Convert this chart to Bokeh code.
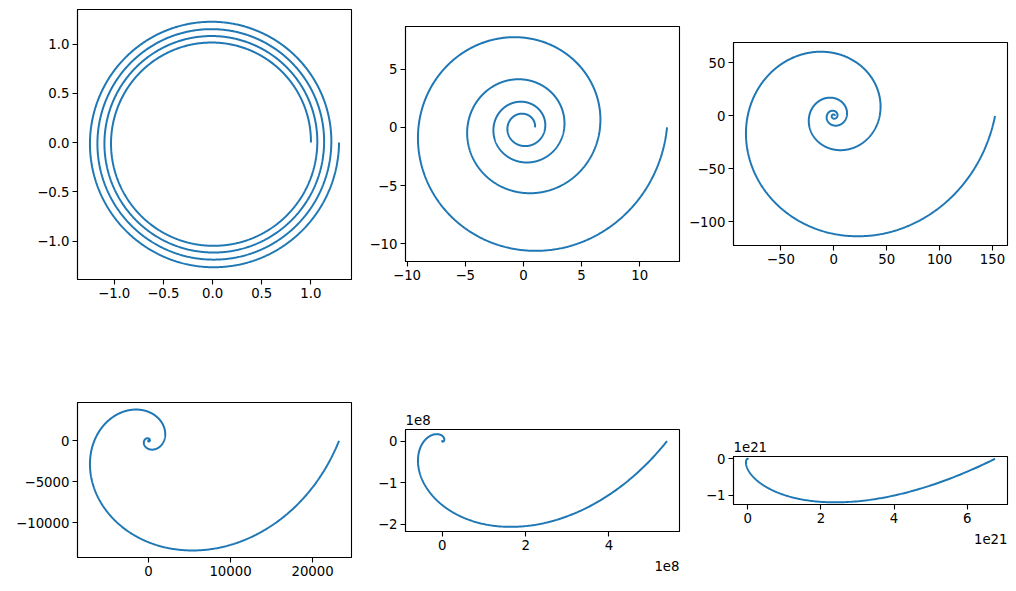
import numpy as np
from bokeh.plotting import figure
from bokeh.models import Range1d, FixedTicker, CustomJSTickFormatter, Title
from bokeh.embed import file_html
from bokeh.resources import INLINE

# ---- data (spiral growth rates) ----
growth_rates = [0.01, 0.1, 0.2, 0.4, 0.8, 2.0]
turns = 4
x_ticks = [[-1.0, -0.5, 0.0, 0.5, 1.0], [-10, -5, 0, 5, 10], [-50, 0, 50, 100, 150],
           [0, 10000, 20000], [0, 2e8, 4e8], [0, 2e21, 4e21, 6e21]]
y_ticks = [[-1.0, -0.5, 0.0, 0.5, 1.0], [-10, -5, 0, 5], [-100, -50, 0, 50],
           [-10000, -5000, 0], [-2e8, -1e8, 0], [-1e21, 0]]
tick_decimals = [1, 0, 0, 0, 0, 0]
offset_exponent = [0, 0, 0, 0, 8, 21]

# ---- layout constants (page pixels) ----
CELL_W, CELL_H = 274, 270
centers_x = [214, 542, 870]
centers_y = [144, 480]
PAGE_W, PAGE_H = 1016, 591
FONT = "DejaVu Sans"
FS = "13.3px"
COLOR = "#1f77b4"


def fmt(dec, exp):
    return CustomJSTickFormatter(args=dict(scale=10.0 ** exp, dec=dec), code="""
        let v = tick / scale;
        let s = v.toFixed(dec);
        if (parseFloat(s) === 0) { s = (0).toFixed(dec); }
        return s.replace('-', '\u2212');
    """)


figs = []
for i, b in enumerate(growth_rates):
    r_i, c_i = divmod(i, 3)
    theta = np.linspace(0, 2 * np.pi * turns, 3000)
    rad = np.exp(b * theta)
    xs = rad * np.cos(theta)
    ys = rad * np.sin(theta)
    x0, x1 = xs.min(), xs.max()
    y0, y1 = ys.min(), ys.max()
    xr0, yr0 = x1 - x0, y1 - y0
    xa, xb = x0 - 0.05 * xr0, x1 + 0.05 * xr0
    ya, yb = y0 - 0.05 * yr0, y1 + 0.05 * yr0
    xr, yr = xb - xa, yb - ya
    s = min(CELL_W / xr, CELL_H / yr)
    fw = int(round(xr * s))
    fh = int(round(yr * s))
    fl = int(round(centers_x[c_i] - fw / 2))
    ft = int(round(centers_y[r_i] - fh / 2))
    bl = 64
    br = min(8, PAGE_W - (fl + fw))
    bt = min(34, ft)
    bb = min(56, PAGE_H - (ft + fh))

    p = figure(frame_width=fw, frame_height=fh, x_range=Range1d(xa, xb), y_range=Range1d(ya, yb),
               output_backend="svg", toolbar_location=None, title=None,
               min_border_left=bl, min_border_right=br, min_border_top=bt, min_border_bottom=bb)
    p.styles = {"position": "absolute", "left": "%dpx" % (fl - bl), "top": "%dpx" % (ft - bt)}
    p.background_fill_color = "white"
    p.border_fill_color = None
    p.outline_line_color = "black"
    p.outline_line_width = 1.1
    p.grid.visible = False
    p.line(xs, ys, line_color=COLOR, line_width=2)

    p.xaxis.ticker = FixedTicker(ticks=x_ticks[i])
    p.yaxis.ticker = FixedTicker(ticks=y_ticks[i])
    p.xaxis.formatter = fmt(tick_decimals[i], offset_exponent[i])
    p.yaxis.formatter = fmt(tick_decimals[i], offset_exponent[i])
    for ax in (p.xaxis, p.yaxis):
        ax.major_tick_in = 0
        ax.major_tick_out = 5
        ax.minor_tick_line_color = None
        ax.major_tick_line_width = 1.1
        ax.axis_line_width = 1.1
        ax.major_label_standoff = 3
        ax.major_label_text_font = FONT
        ax.major_label_text_font_size = FS
        ax.major_label_text_color = "black"

    if offset_exponent[i]:
        lab = "1e%d" % offset_exponent[i]
        p.add_layout(Title(text=lab, align="right", text_font=FONT, text_font_size=FS,
                           text_font_style="normal", text_color="black", standoff=13), "below")
        p.add_layout(Title(text=lab, align="left", text_font=FONT, text_font_size=FS,
                           text_font_style="normal", text_color="black", standoff=9), "above")
    figs.append(p)

open("out.html", "w").write(file_html(figs, INLINE))
